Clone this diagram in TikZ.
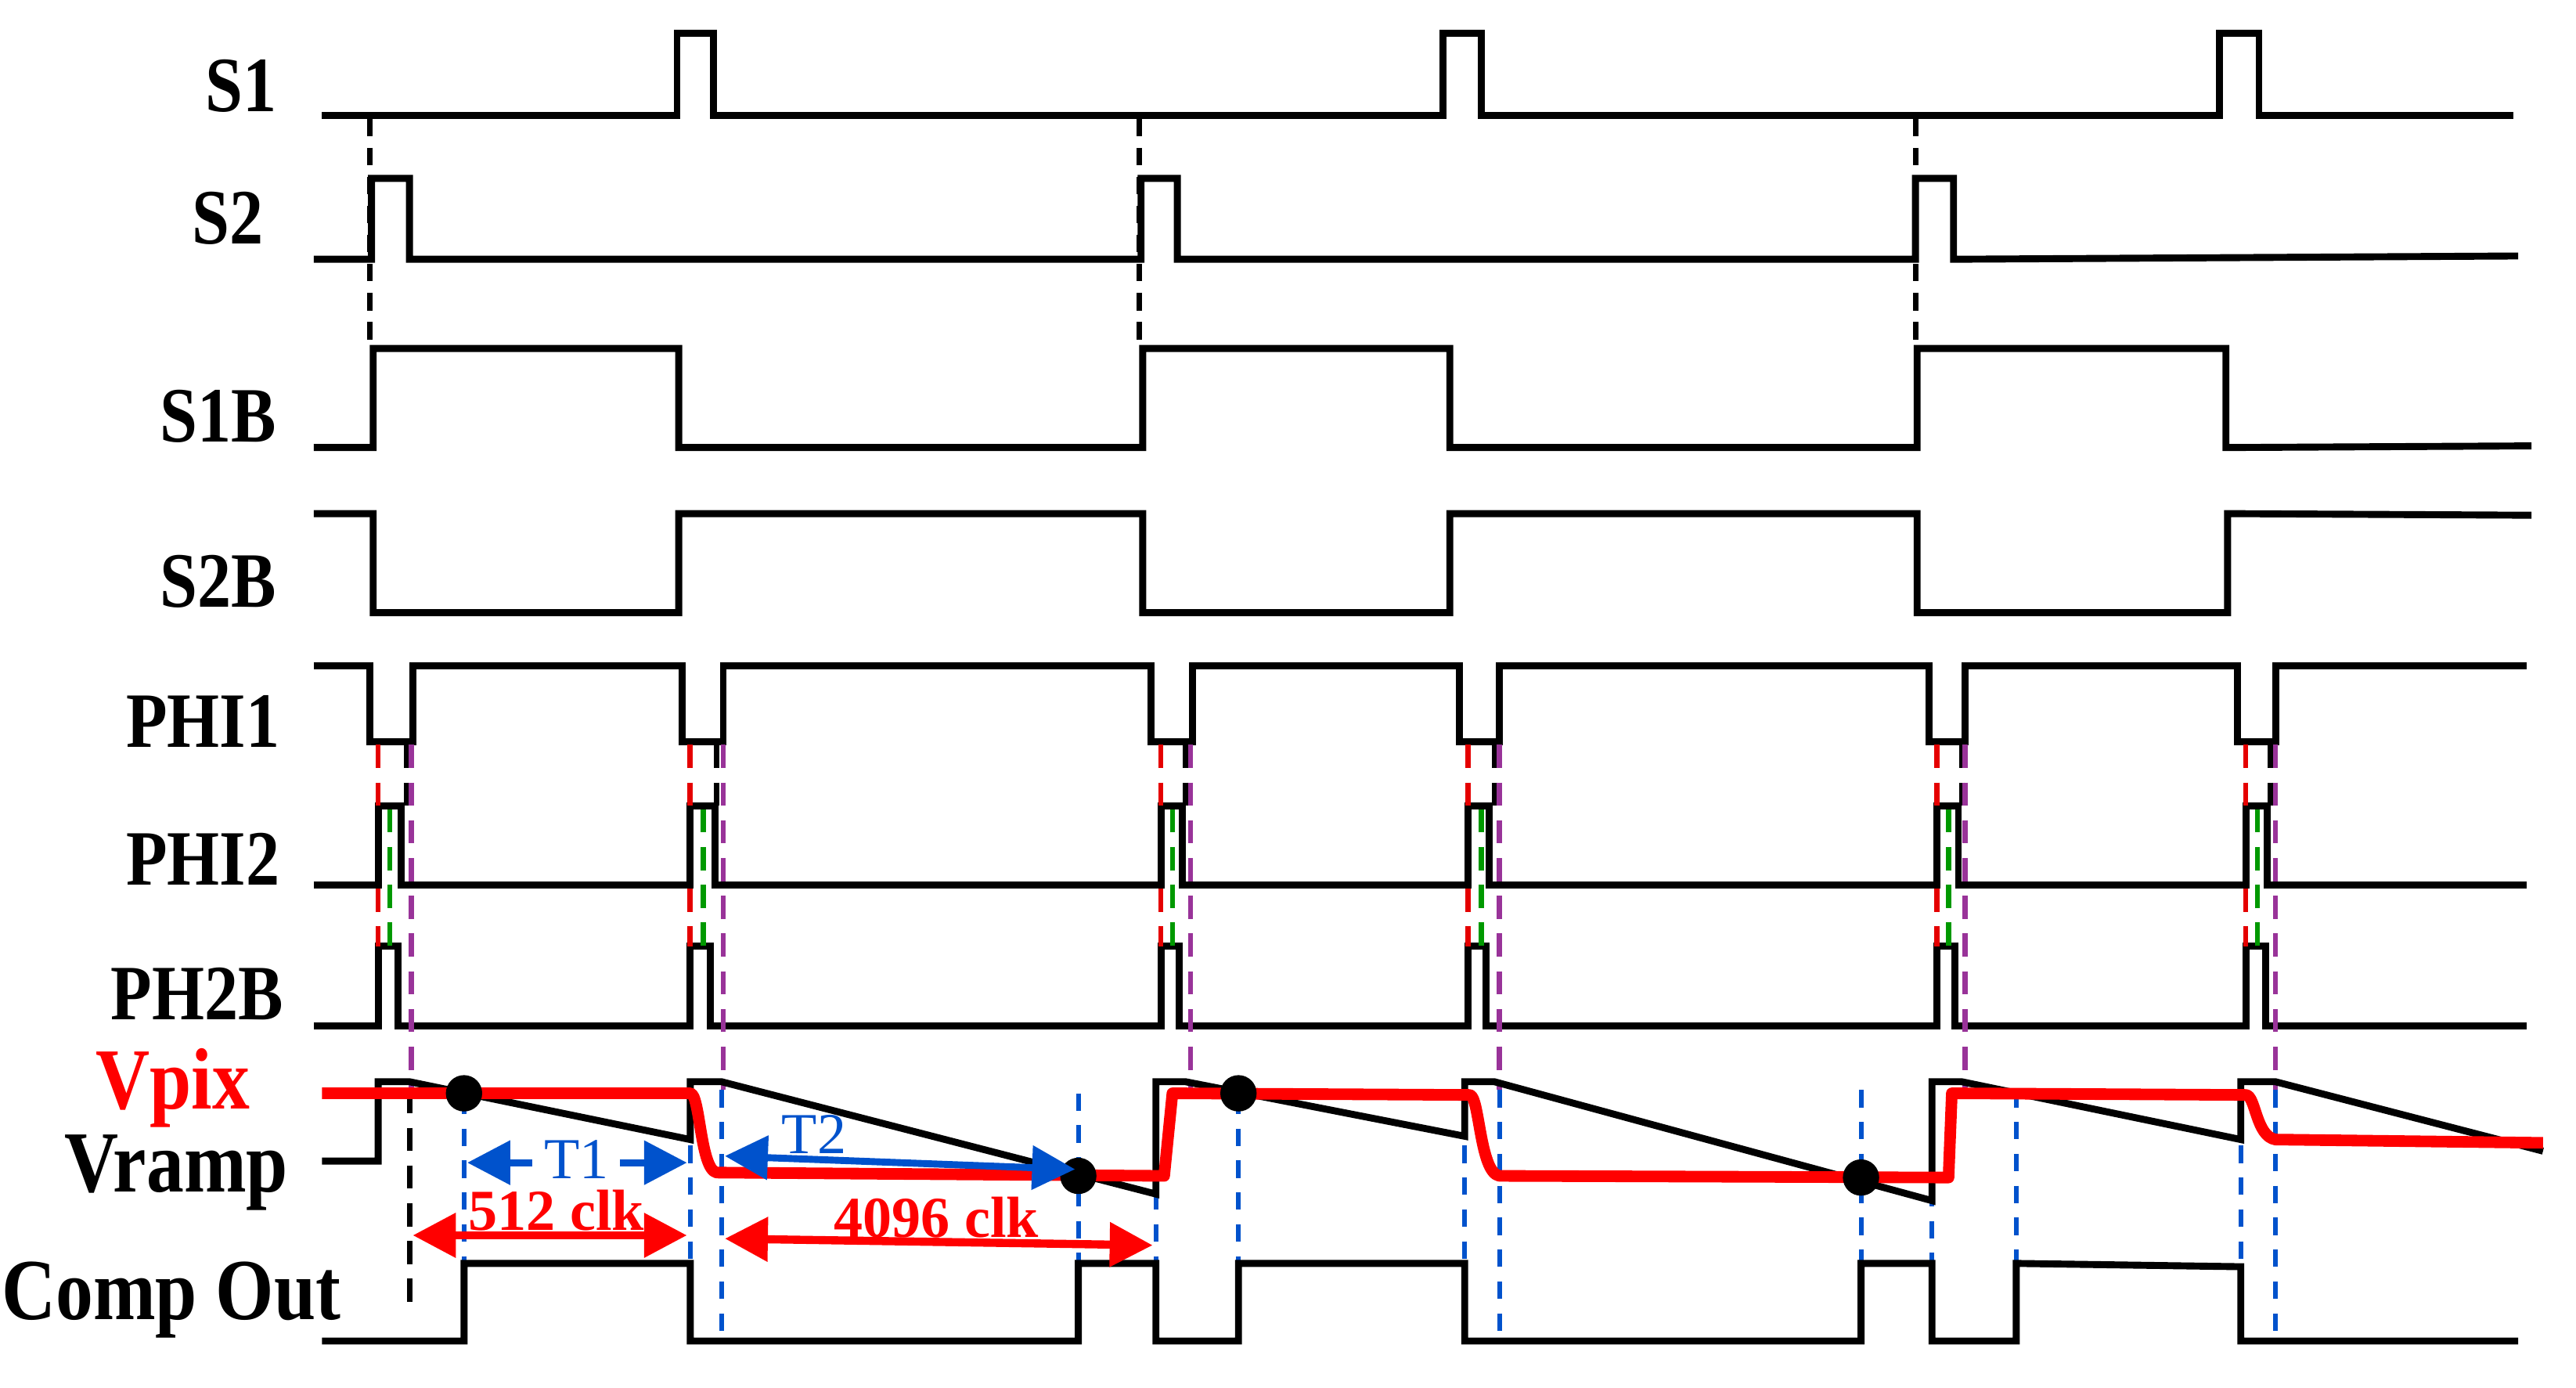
\documentclass[tikz,border=0pt]{standalone}
\usepackage{fontspec}
\setmainfont{Liberation Serif}
\usetikzlibrary{arrows.meta}
\begin{document}
\begin{tikzpicture}[x=0.1mm,y=-0.1mm,
 sig/.style={line width=1.2pt,line join=miter,black},
 pix/.style={line width=2pt,red,line join=round},
 lab/.style={anchor=east,font=\bfseries\fontsize{13.5}{15}\selectfont,inner sep=0,xscale=0.86},
 rd/.style={red!90!black,dashed,line width=0.9pt,dash pattern=on 4pt off 2.5pt},
 bd/.style={black,dashed,line width=0.9pt,dash pattern=on 4pt off 2.5pt},
 gd/.style={green!60!black,dashed,line width=0.9pt,dash pattern=on 4pt off 2.5pt},
 pd/.style={violet!80,dashed,line width=0.9pt,dash pattern=on 4pt off 2.5pt},
 bld/.style={blue!60!cyan!80!black,dashed,line width=0.8pt,dash pattern=on 3pt off 2.5pt},
 tip/.style={{Triangle[length=2.6mm,width=2.6mm]}-{Triangle[length=2.6mm,width=2.6mm]}},
 dot/.style={circle,fill=black,inner sep=0,minimum size=2.2mm}]
\useasboundingbox (0,0) rectangle (1560,840);
% labels
\node[lab] (l1) at (168,52) {S1};
\node[lab] (l2) at (160,132) {S2};
\node[lab] (l3) at (168,252) {S1B};
\node[lab] (l4) at (168,352) {S2B};
\node[lab] (l5) at (170,437) {PHI1};
\node[lab] (l6) at (170,520) {PHI2};
\node[lab] (l7) at (172,602) {PH2B};
\node[lab,red,font=\bfseries\fontsize{15}{17}\selectfont] (l8) at (152,659) {Vpix};
\node[lab,font=\bfseries\fontsize{15}{17}\selectfont] (l9) at (175,710) {Vramp};
\node[lab,font=\bfseries\fontsize{15}{17}\selectfont] (l10) at (207,787) {Comp Out};
% S1
\draw[sig] (195,70) -| (410,20) -| (432,70) -| (874,20) -| (897,70) -| (1344,20) -| (1368,70) -- (1522,70);
% S2
\draw[sig] (190,157) -| (225,108) -| (248,157) -| (691,108) -| (713,157) -| (1160,108) -| (1183,157) -- (1525,155);
% S1B
\draw[sig] (190,271) -| (226,211) -| (411,271) -| (692,211) -| (878,271) -| (1161,211) -| (1348,271) -- (1533,270);
% S2B
\draw[sig] (190,311) -| (226,371) -| (411,311) -| (692,371) -| (878,311) -| (1161,371) -| (1349,311) -- (1533,312);
% PHI1
\draw[sig] (190,403) -| (224,449) -| (250,403) -| (413,449) -| (438,403) -| (697,449) -| (722,403) -| (884,449) -| (908,403) -| (1168,449) -| (1190,403) -| (1355,449) -| (1378,403) -- (1530,403);
% PHI2
\draw[sig] (190,536) -| (229,488) -| (243,536) -| (418,488) -| (433,536) -| (703,488) -| (716,536) -| (889,488) -| (902,536) -| (1173,488) -| (1186,536) -| (1360,488) -| (1373,536) -- (1530,536);
% PH2B
\draw[sig] (190,621) -| (229,573) -| (241,621) -| (418,573) -| (430,621) -| (703,573) -| (714,621) -| (889,573) -| (900,621) -| (1173,573) -| (1184,621) -| (1360,573) -| (1372,621) -- (1530,621);
% dashed connectors S1 -> S1B
\foreach \x in {224,690,1160} \draw[bd,dash pattern=on 3pt off 2pt] (\x,72) -- (\x,211);
% phase dashed lines
\foreach \a/\b/\c/\d in {229/246/236/249, 418/434/426/438, 703/718/710/721, 889/905/897/908, 1173/1188/1180/1190, 1360/1375/1367/1378}{
 \draw[rd] (\a,451) -- (\a,488);
 \draw[rd] (\a,538) -- (\a,573);
 \draw[bd] (\b,451) -- (\b,488);
 \draw[gd] (\c,490) -- (\c,573);
 \draw[pd] (\d,451) -- (\d,660);
}
% blue dashed verticals
\foreach \x/\ya/\yb in {281/664/812, 418/655/812, 437/660/812, 653/662/765, 700/722/812, 750/664/765, 887/655/812, 908/660/812, 1127/660/812, 1170/720/812, 1221/660/765, 1357/655/812, 1378/660/812}
 \draw[bld] (\x,\ya) -- (\x,\yb);
\draw[bd] (248,660) -- (248,790);
% Vramp
\draw[sig] (195,703) -| (229,655) -- (248,655) -- (418,690) -- (418,655) -- (437,655) -- (700,723) -- (700,655) -- (718,655) -- (887,688) -- (887,655) -- (905,655) -- (1170,727) -- (1170,655) -- (1188,655) -- (1357,690) -- (1357,655) -- (1378,655) -- (1540,697);
% Vpix
\draw[pix] (195,662) -- (418,662) .. controls (424,662) and (424,708) .. (434,710) -- (705,712) -- (710,662) -- (890,663) .. controls (896,663) and (896,710) .. (908,712) -- (1180,713) -- (1182,662) -- (1360,663) .. controls (1366,663) and (1366,688) .. (1378,690) -- (1540,692);
\node[dot] (d1) at (281,662) {};
\node[dot] (d2) at (653,712) {};
\node[dot] (d3) at (750,662) {};
\node[dot] (d4) at (1127,713) {};
% Comp Out
\draw[sig] (195,812) -| (281,765) -| (418,812) -| (653,765) -| (700,812) -| (750,765) -| (887,812) -| (1127,765) -| (1170,812) -| (1221,765) -- (1357,767) |- (1525,812);
% T1, T2
\coordinate (t1a) at (283,704); \coordinate (t1b) at (416,704);
\draw[blue!60!cyan!80!black,line width=1.2pt,tip] (t1a) -- (t1b);
\node[fill=white,inner xsep=2pt,inner ysep=0pt,text=blue!60!cyan!80!black,font=\fontsize{10}{11}\selectfont] (t1) at (349,702) {T1};
\coordinate (t2a) at (439,700); \coordinate (t2b) at (651,708);
\draw[blue!60!cyan!80!black,line width=1.2pt,tip] (t2a) -- (t2b);
\node[text=blue!60!cyan!80!black,font=\fontsize{10}{11}\selectfont] (t2) at (493,687) {T2};
% clk arrows
\coordinate (c1a) at (250,748); \coordinate (c1b) at (416,748);
\draw[red,line width=1.4pt,tip] (c1a) -- (c1b);
\node[text=red,inner sep=1pt,font=\bfseries\fontsize{10}{11}\selectfont] (c1) at (337,733) {512 clk};
\coordinate (c2a) at (439,750); \coordinate (c2b) at (698,754);
\draw[red,line width=1.4pt,tip] (c2a) -- (c2b);
\node[text=red,inner sep=1pt,font=\bfseries\fontsize{10}{11}\selectfont] (c2) at (567,737) {4096 clk};
\end{tikzpicture}
\end{document}
